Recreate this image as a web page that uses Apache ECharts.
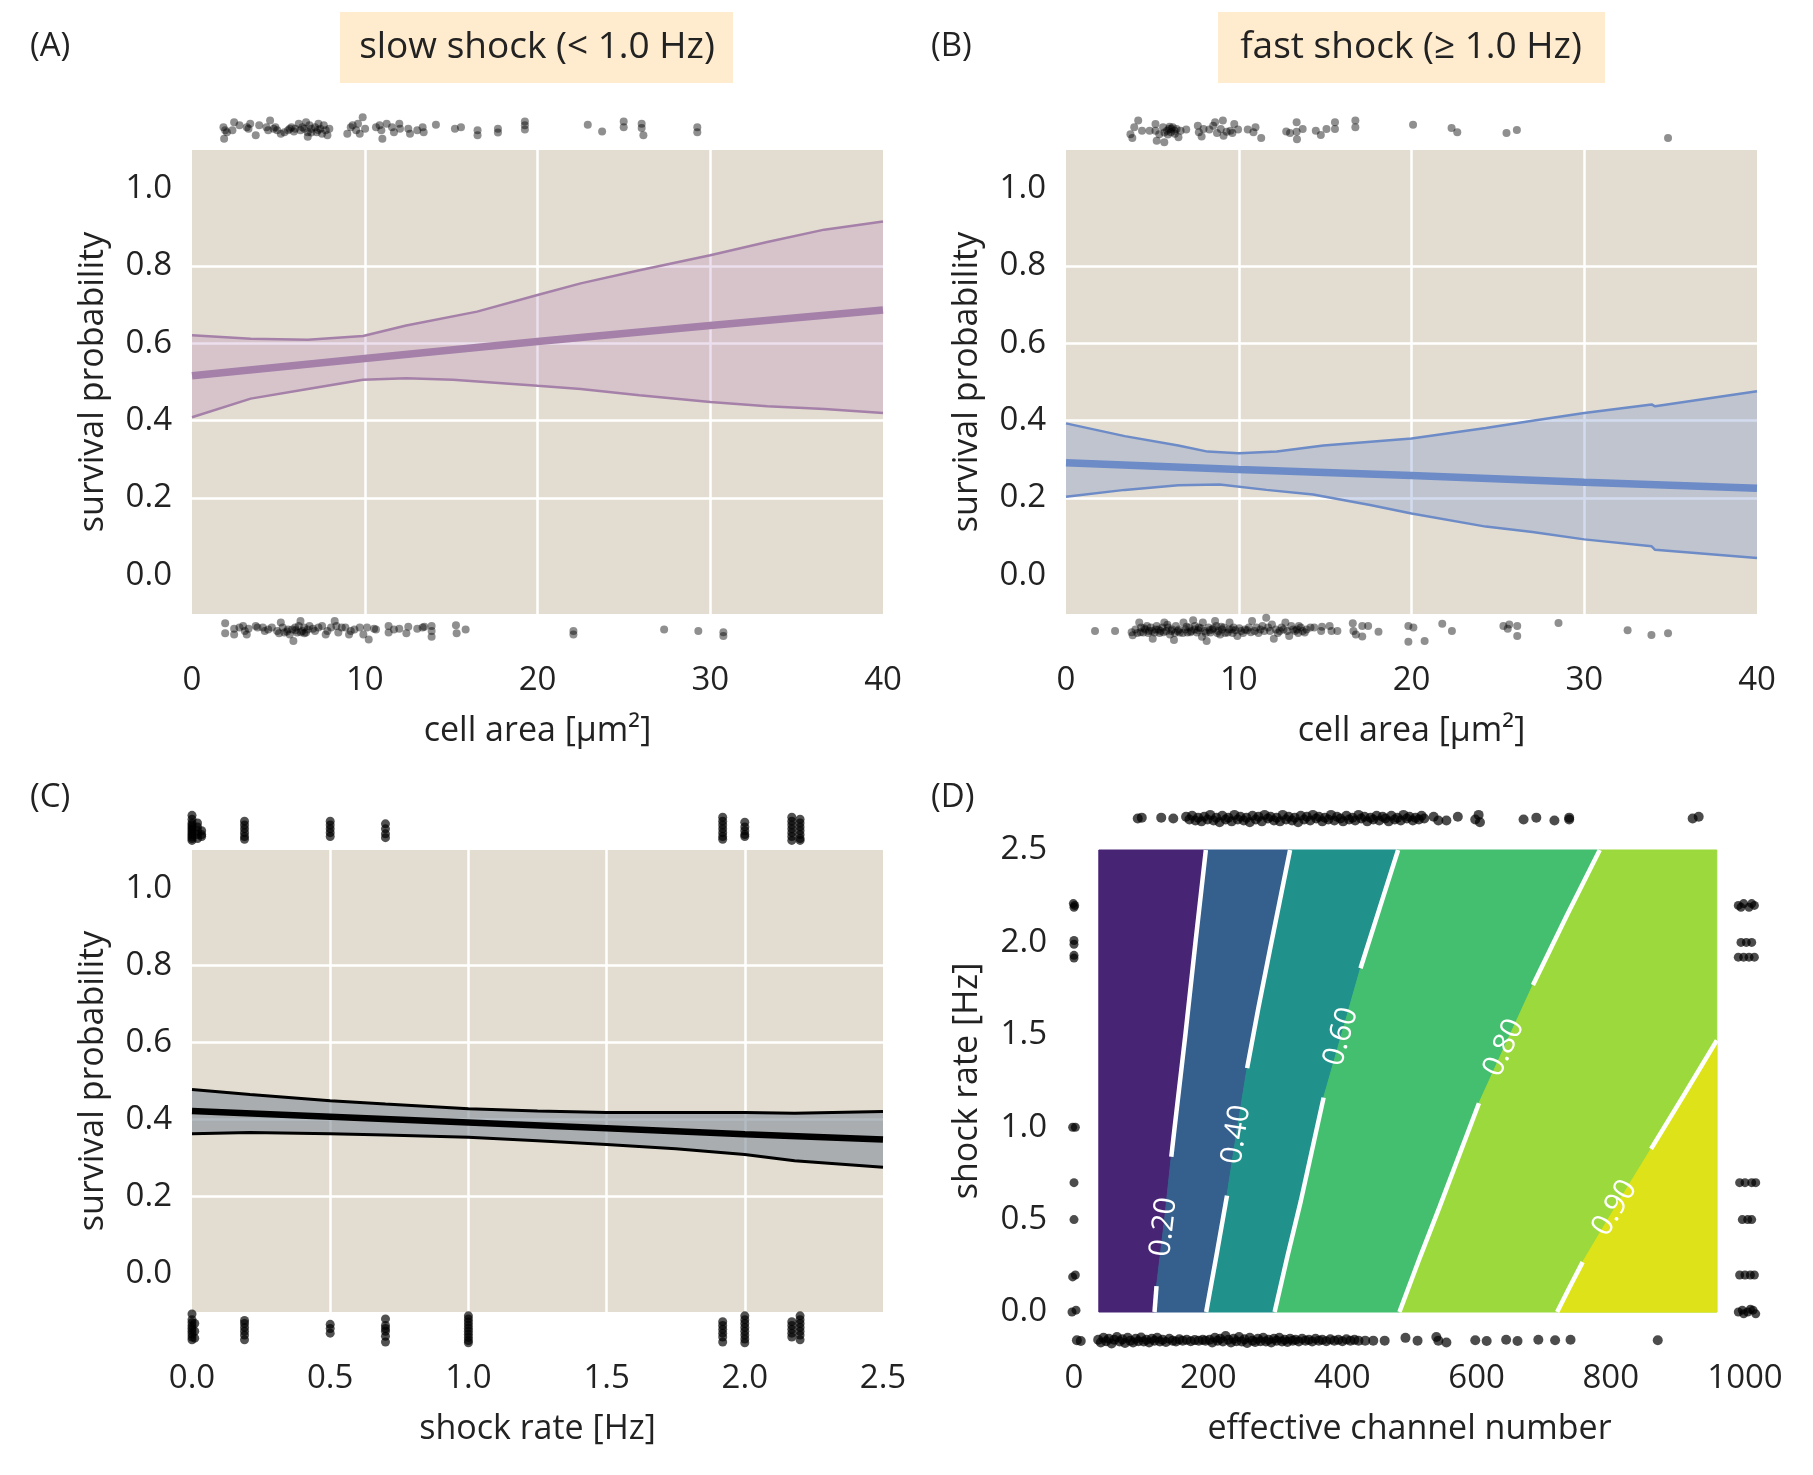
<!DOCTYPE html>
<html><head><meta charset="utf-8">
<script src="https://cdn.jsdelivr.net/npm/echarts@6/dist/echarts.min.js"></script>
<style>html,body{margin:0;padding:0;background:#fff}#c{width:1813px;height:1475px}</style>
</head><body><div id="c"></div>
<script>
// ---------- DATA ----------
const probTicks = [0, 0.2, 0.4, 0.6, 0.8, 1.0];

// Panel A (slow shock): logistic fit vs cell area
const aMean  = [[0,0.516],[10,0.561],[20,0.605],[30,0.646],[40,0.686]];
const aUpper = [[0,0.621],[3.4,0.612],[6.7,0.609],[9.9,0.619],[12.4,0.646],[16.5,0.682],[20,0.725],[22.5,0.755],[25.9,0.789],[30,0.828],[33.3,0.862],[36.6,0.894],[40,0.915]];
const aLower = [[0,0.409],[3.4,0.457],[6.7,0.482],[9.9,0.506],[12.4,0.51],[15.1,0.506],[20,0.49],[22.5,0.482],[25.9,0.466],[30,0.448],[33.3,0.437],[36.6,0.43],[40,0.42]];
const aRugTop = [[1.82,1.159],[1.92,1.151],[1.86,1.129],[2.02,1.146],[2.44,1.172],[2.34,1.151],[2.75,1.164],[3.17,1.159],[3.37,1.168],[3.27,1.155],[3.69,1.138],[3.89,1.164],[4.31,1.159],[4.52,1.176],[4.41,1.151],[4.73,1.155],[4.83,1.159],[4.93,1.151],[5.14,1.142],[5.35,1.146],[5.56,1.151],[5.66,1.155],[5.76,1.159],[5.97,1.155],[6.18,1.168],[6.28,1.151],[6.39,1.159],[6.6,1.172],[6.7,1.146],[6.7,1.134],[6.8,1.164],[6.91,1.155],[7.12,1.159],[7.22,1.146],[7.32,1.168],[7.43,1.155],[7.53,1.142],[7.63,1.164],[7.74,1.151],[7.84,1.138],[7.95,1.155],[8.99,1.142],[9.19,1.159],[9.3,1.164],[9.5,1.151],[9.61,1.168],[9.71,1.142],[9.88,1.185],[10.02,1.155],[10.65,1.159],[10.86,1.164],[10.96,1.151],[11.02,1.129],[11.27,1.168],[11.58,1.159],[11.69,1.146],[12.0,1.168],[12.04,1.155],[12.52,1.155],[12.62,1.142],[13.04,1.151],[13.35,1.159],[13.41,1.146],[14.12,1.165],[15.22,1.155],[15.57,1.159],[16.53,1.151],[16.53,1.138],[17.71,1.155],[17.71,1.145],[19.27,1.174],[19.27,1.164],[19.27,1.153],[22.91,1.165],[23.74,1.148],[24.99,1.174],[24.99,1.159],[26.03,1.168],[26.03,1.157],[26.13,1.138],[29.25,1.159],[29.25,1.146],[6.5,1.155],[6.9,1.145],[7.3,1.152],[5.9,1.148]];
const aRugBottom = [[1.92,-0.124],[1.92,-0.15],[2.44,-0.138],[2.44,-0.153],[2.75,-0.135],[2.96,-0.131],[3.06,-0.144],[3.17,-0.153],[3.27,-0.138],[3.69,-0.131],[3.79,-0.135],[4.1,-0.135],[4.21,-0.144],[4.41,-0.14],[4.62,-0.135],[4.93,-0.144],[5.04,-0.15],[5.14,-0.122],[5.25,-0.135],[5.35,-0.148],[5.56,-0.14],[5.66,-0.153],[5.87,-0.17],[5.97,-0.135],[6.08,-0.148],[6.18,-0.131],[6.28,-0.118],[6.39,-0.144],[6.49,-0.135],[6.6,-0.148],[6.7,-0.14],[6.8,-0.131],[7.12,-0.144],[7.32,-0.135],[7.53,-0.131],[7.74,-0.153],[7.84,-0.144],[8.05,-0.135],[8.26,-0.118],[8.36,-0.131],[8.47,-0.148],[8.67,-0.135],[8.88,-0.135],[9.09,-0.153],[9.19,-0.144],[9.4,-0.14],[9.71,-0.135],[9.92,-0.153],[10.13,-0.135],[10.23,-0.166],[10.54,-0.138],[10.65,-0.14],[11.38,-0.131],[11.38,-0.148],[11.69,-0.14],[12.0,-0.138],[12.41,-0.15],[12.52,-0.133],[13.04,-0.138],[13.35,-0.135],[13.45,-0.133],[13.87,-0.131],[13.87,-0.144],[13.87,-0.159],[15.28,-0.129],[15.32,-0.15],[15.84,-0.14],[22.08,-0.144],[22.08,-0.153],[27.33,-0.14],[29.31,-0.144],[30.76,-0.147],[30.76,-0.157],[5.5,-0.145],[6.0,-0.142],[6.5,-0.15],[7.0,-0.138],[6.3,-0.147],[5.8,-0.14]];

// Panel B (fast shock)
const bMean  = [[0,0.291],[10,0.274],[20,0.258],[30,0.241],[40,0.225]];
const bUpper = [[0,0.393],[3.4,0.36],[6.5,0.336],[8.2,0.32],[10,0.316],[12.2,0.32],[14.9,0.336],[20,0.354],[24.3,0.381],[27,0.40],[30,0.42],[33.9,0.442],[34.1,0.437],[40,0.476]];
const bLower = [[0,0.203],[3.4,0.221],[6.5,0.233],[8.9,0.235],[11.6,0.221],[14.3,0.209],[17.6,0.182],[20,0.16],[24.3,0.126],[27,0.112],[30,0.093],[33.9,0.075],[34.1,0.066],[40,0.045]];
const bRugTop = [[3.73,1.141],[3.84,1.131],[3.95,1.159],[4.18,1.176],[4.4,1.15],[4.84,1.15],[5.18,1.167],[5.18,1.15],[5.25,1.124],[5.4,1.141],[5.62,1.159],[5.69,1.12],[5.85,1.15],[5.96,1.154],[6.07,1.146],[6.18,1.159],[6.29,1.15],[6.4,1.154],[6.51,1.133],[6.63,1.15],[6.96,1.153],[7.63,1.163],[7.69,1.146],[7.85,1.135],[7.96,1.154],[8.3,1.153],[8.52,1.163],[8.63,1.172],[8.74,1.144],[8.96,1.154],[9.08,1.176],[9.12,1.137],[9.3,1.147],[9.52,1.15],[9.63,1.144],[9.74,1.167],[9.96,1.153],[10.52,1.153],[10.85,1.146],[10.97,1.159],[11.3,1.131],[12.75,1.148],[12.97,1.144],[13.35,1.172],[13.35,1.147],[13.37,1.128],[13.7,1.154],[14.46,1.15],[14.75,1.139],[15.08,1.154],[15.57,1.172],[15.57,1.154],[16.75,1.176],[16.75,1.159],[20.09,1.165],[22.32,1.157],[22.65,1.146],[25.5,1.144],[26.1,1.152],[34.85,1.131],[5.7,1.145],[5.9,1.14],[6.1,1.155],[6.0,1.16],[6.3,1.142]];
const bRugBottom = [[1.68,-0.144],[2.84,-0.144],[3.80,-0.147],[3.86,-0.155],[4.02,-0.14],[4.24,-0.122],[4.35,-0.135],[4.47,-0.148],[4.58,-0.14],[4.69,-0.131],[4.80,-0.144],[4.91,-0.135],[5.02,-0.164],[5.13,-0.148],[5.25,-0.131],[5.36,-0.14],[5.47,-0.144],[5.58,-0.135],[5.69,-0.122],[5.80,-0.144],[5.91,-0.135],[6.02,-0.153],[6.14,-0.14],[6.25,-0.167],[6.36,-0.131],[6.47,-0.144],[6.58,-0.148],[6.80,-0.122],[6.91,-0.14],[7.03,-0.148],[7.14,-0.135],[7.25,-0.144],[7.36,-0.116],[7.47,-0.131],[7.58,-0.148],[7.69,-0.135],[7.87,-0.159],[7.92,-0.122],[8.03,-0.144],[8.14,-0.17],[8.25,-0.135],[8.36,-0.148],[8.47,-0.14],[8.63,-0.118],[8.70,-0.131],[8.81,-0.144],[8.92,-0.153],[9.03,-0.14],[9.14,-0.135],[9.36,-0.148],[9.47,-0.122],[9.59,-0.14],[9.70,-0.135],[9.92,-0.157],[10.14,-0.144],[10.36,-0.14],[10.59,-0.135],[10.77,-0.118],[10.92,-0.144],[11.03,-0.135],[11.26,-0.14],[11.37,-0.131],[11.59,-0.11],[11.70,-0.135],[11.81,-0.144],[11.92,-0.127],[12.03,-0.164],[12.15,-0.14],[12.37,-0.144],[12.48,-0.135],[12.70,-0.122],[12.81,-0.144],[12.92,-0.157],[13.04,-0.131],[13.26,-0.144],[13.37,-0.14],[13.48,-0.131],[13.59,-0.135],[13.70,-0.144],[13.82,-0.148],[14.15,-0.135],[14.37,-0.135],[14.77,-0.144],[14.82,-0.133],[15.26,-0.131],[15.37,-0.144],[15.71,-0.144],[16.6,-0.124],[16.64,-0.144],[16.78,-0.153],[17.15,-0.131],[17.15,-0.158],[17.49,-0.131],[18.09,-0.146],[19.82,-0.131],[19.82,-0.172],[20.11,-0.135],[20.76,-0.17],[21.78,-0.125],[22.34,-0.144],[25.32,-0.131],[25.57,-0.138],[25.66,-0.127],[26.12,-0.131],[26.12,-0.157],[28.51,-0.123],[32.51,-0.142],[33.89,-0.154],[34.85,-0.15],[4.13,-0.149],[4.31,-0.147],[4.53,-0.137],[4.76,-0.149],[4.98,-0.144],[5.20,-0.14],[5.42,-0.149],[5.65,-0.147],[5.87,-0.128],[6.09,-0.144],[6.31,-0.149],[6.54,-0.14],[6.76,-0.149],[6.98,-0.133],[7.20,-0.147],[7.43,-0.14],[7.65,-0.142],[7.80,-0.137],[8.09,-0.149],[8.32,-0.142],[8.54,-0.137],[8.76,-0.149],[8.98,-0.133],[9.21,-0.149],[9.43,-0.14],[9.65,-0.149],[9.81,-0.142],[10.03,-0.137],[10.25,-0.149],[10.48,-0.142],[10.70,-0.147],[11.14,-0.149],[11.48,-0.144],[12.26,-0.149],[12.59,-0.14],[13.15,-0.14],[13.44,-0.149],[13.93,-0.14]];

// Panel C (shock rate)
const cMean  = [[0,0.422],[0.5,0.407],[1.0,0.392],[1.5,0.377],[2.0,0.362],[2.5,0.348]];
const cUpper = [[0,0.478],[0.21,0.465],[0.5,0.449],[0.7,0.44],[1.0,0.428],[1.25,0.422],[1.5,0.418],[1.75,0.418],[2.0,0.418],[2.18,0.416],[2.5,0.421]];
const cLower = [[0,0.363],[0.21,0.366],[0.5,0.363],[0.7,0.36],[1.0,0.354],[1.25,0.345],[1.5,0.335],[1.75,0.324],[2.0,0.309],[2.18,0.293],[2.5,0.276]];
const cRugTop = [[0,1.19],[0,1.18],[0,1.17],[0,1.165],[0,1.16],[0,1.155],[0,1.15],[0,1.145],[0,1.14],[0,1.135],[0,1.13],[0,1.125],[0.02,1.17],[0.02,1.16],[0.02,1.15],[0.02,1.14],[0.02,1.13],[0.035,1.15],[0.035,1.14],[0.035,1.135],
 [0.19,1.175],[0.19,1.165],[0.19,1.155],[0.19,1.145],[0.19,1.135],[0.19,1.128],
 [0.5,1.175],[0.5,1.165],[0.5,1.155],[0.5,1.145],[0.5,1.135],
 [0.7,1.168],[0.7,1.155],[0.7,1.142],[0.7,1.132],
 [1.92,1.185],[1.92,1.175],[1.92,1.165],[1.92,1.155],[1.92,1.145],[1.92,1.135],[1.92,1.128],
 [2.0,1.172],[2.0,1.16],[2.0,1.15],[2.0,1.14],[2.0,1.135],
 [2.17,1.185],[2.17,1.175],[2.17,1.165],[2.17,1.155],[2.17,1.145],[2.17,1.135],[2.17,1.125],
 [2.2,1.18],[2.2,1.17],[2.2,1.16],[2.2,1.15],[2.2,1.14],[2.2,1.13],[2.2,1.125]];
const cRugBottom = [[0,-0.105],[0,-0.12],[0,-0.128],[0,-0.136],[0,-0.143],[0,-0.15],[0,-0.157],[0,-0.165],[0,-0.172],[0.01,-0.13],[0.01,-0.15],[0.01,-0.168],
 [0.19,-0.122],[0.19,-0.13],[0.19,-0.14],[0.19,-0.15],[0.19,-0.16],[0.19,-0.172],
 [0.5,-0.132],[0.5,-0.143],[0.5,-0.155],
 [0.7,-0.118],[0.7,-0.135],[0.7,-0.143],[0.7,-0.15],[0.7,-0.163],[0.7,-0.178],
 [1.0,-0.11],[1.0,-0.118],[1.0,-0.126],[1.0,-0.134],[1.0,-0.142],[1.0,-0.15],[1.0,-0.158],[1.0,-0.166],[1.0,-0.174],[1.0,-0.18],
 [1.92,-0.125],[1.92,-0.135],[1.92,-0.145],[1.92,-0.155],[1.92,-0.165],[1.92,-0.178],
 [2.0,-0.11],[2.0,-0.12],[2.0,-0.13],[2.0,-0.14],[2.0,-0.15],[2.0,-0.16],[2.0,-0.17],[2.0,-0.18],
 [2.17,-0.125],[2.17,-0.135],[2.17,-0.145],[2.17,-0.155],[2.17,-0.165],
 [2.2,-0.11],[2.2,-0.12],[2.2,-0.13],[2.2,-0.14],[2.2,-0.15],[2.2,-0.16],[2.2,-0.172]];

// Panel D (contours of survival probability)
const dExtentX = [37, 958];
const dExtentY = [0, 2.5];
const contourLevels = ['0.20', '0.40', '0.60', '0.80', '0.90'];
const contour20 = [[120,0],[123,0.14],[135,0.5],[145,0.84],[150,1.0],[166,1.5],[181,2.0],[196.5,2.5]];
const contour40 = [[197,0],[212,0.3],[228,0.63],[242,0.96],[258,1.32],[275,1.65],[292,1.96],[322,2.5]];
const contour60 = [[299,0],[318,0.3],[338,0.6],[372,1.16],[398,1.49],[427,1.86],[455,2.18],[483,2.5]];
const contour80 = [[485,0],[516,0.3],[545,0.57],[603.5,1.13],[641,1.43],[684,1.77],[735,2.15],[783.5,2.5]];
const contour90 = [[720,0],[738,0.13],[758,0.27],[806,0.563],[860,0.883],[910,1.18],[958,1.47]];
const contourGaps = [[1,3],[2,4],[3,5],[3,5],[2,4]];
const contourLabelAt = [[134,0.46],[242,0.96],[398,1.49],[641,1.43],[806,0.563]];
const dRugTop = [[95,2.67],[101,2.675],[130,2.675],[148,2.67],[167,2.68],[172,2.665],[176,2.685],[181,2.66],[185,2.675],[190,2.655],[194,2.68],[199,2.665],[203,2.69],[208,2.66],[212,2.675],[217,2.65],[221,2.685],[226,2.665],[230,2.675],[235,2.655],[239,2.69],[244,2.665],[248,2.68],[253,2.66],[257,2.675],[262,2.65],[266,2.685],[271,2.665],[275,2.68],[280,2.655],[284,2.69],[289,2.67],[293,2.68],[298,2.66],[302,2.675],[307,2.655],[311,2.69],[316,2.665],[320,2.68],[325,2.66],[329,2.675],[334,2.65],[338,2.685],[343,2.665],[347,2.68],[352,2.66],[356,2.69],[361,2.67],[365,2.68],[370,2.655],[374,2.675],[379,2.665],[383,2.69],[388,2.66],[392,2.68],[397,2.67],[401,2.655],[406,2.685],[410,2.665],[415,2.675],[419,2.66],[424,2.69],[428,2.67],[433,2.68],[437,2.655],[442,2.675],[446,2.665],[451,2.685],[455,2.66],[460,2.68],[464,2.67],[469,2.655],[473,2.685],[478,2.665],[482,2.675],[487,2.66],[491,2.69],[496,2.67],[500,2.68],[505,2.66],[509,2.675],[514,2.665],[518,2.685],[522,2.67],[536,2.68],[543,2.66],[555,2.66],[572,2.68],[598,2.665],[603,2.69],[605,2.65],[670,2.665],[689,2.675],[716,2.66],[738,2.675],[738,2.665],[922,2.67],[931,2.68]];
const dRugBottom = [[4.3,-0.153],[10.1,-0.157],[36,-0.15],[40,-0.165],[44,-0.14],[48,-0.158],[52,-0.145],[56,-0.17],[60,-0.15],[64,-0.135],[68,-0.16],[72,-0.148],[76,-0.168],[80,-0.14],[84,-0.155],[88,-0.165],[92,-0.145],[96,-0.158],[100,-0.138],[104,-0.16],[108,-0.15],[112,-0.165],[116,-0.145],[120,-0.155],[124,-0.14],[128,-0.16],[132,-0.15],[137,-0.162],[142,-0.145],[147,-0.155],[152,-0.16],[157,-0.148],[162,-0.155],[168,-0.15],[174,-0.158],[180,-0.152],[186,-0.155],[192,-0.15],[196,-0.155],[202,-0.15],[206,-0.165],[210,-0.14],[214,-0.155],[218,-0.145],[222,-0.16],[226,-0.13],[230,-0.15],[234,-0.165],[238,-0.145],[242,-0.158],[246,-0.135],[250,-0.16],[254,-0.148],[258,-0.168],[262,-0.14],[266,-0.155],[270,-0.162],[274,-0.145],[278,-0.158],[282,-0.14],[286,-0.16],[290,-0.15],[294,-0.165],[298,-0.145],[302,-0.155],[306,-0.14],[310,-0.16],[314,-0.15],[318,-0.162],[322,-0.145],[326,-0.155],[330,-0.15],[335,-0.16],[340,-0.145],[345,-0.155],[350,-0.15],[355,-0.16],[360,-0.145],[365,-0.155],[370,-0.15],[376,-0.158],[382,-0.148],[388,-0.155],[394,-0.15],[400,-0.158],[406,-0.148],[412,-0.155],[418,-0.15],[424,-0.155],[434,-0.155],[446,-0.155],[463,-0.155],[494,-0.14],[512,-0.155],[540,-0.135],[543,-0.155],[555,-0.165],[598,-0.153],[615,-0.157],[644,-0.15],[661,-0.157],[692,-0.15],[717,-0.153],[740,-0.15],[870,-0.153]];
const dRugLeft = [[-1,2.21],[0,2.19],[1,2.2],[0,2.01],[0,1.99],[0,1.93],[0,1.915],[-2,1.0],[2,1.0],[0,0.7],[0,0.5],[-2,0.19],[2,0.2],[-3,0.0],[3,0.01]];
const dRugRight = [[990,2.2],[998,2.21],[1006,2.19],[1014,2.2],[994,2.19],[1010,2.21],[994,2.0],[1002,2.0],[1010,2.0],[990,1.92],[998,1.92],[1006,1.92],[1014,1.92],[992,0.7],[1000,0.7],[1010,0.7],[1016,0.7],[996,0.5],[1004,0.5],[1010,0.5],[992,0.2],[1000,0.2],[1008,0.2],[1014,0.2],[990,0.0],[996,0.01],[1004,0.0],[1012,0.01],[1016,-0.01],[998,-0.01],[1008,0.015]];

// ---------- STYLE ----------
const FONT = 'Open Sans';
const TXT = '#222222';
const BG = '#e3ddd1';
const regionColors = ['#482475', '#355f8d', '#21918c', '#44bf70', '#9bd93c', '#dde318'];

const chart = echarts.init(document.getElementById('c'), null, {renderer: 'canvas'});

function xAxisCfg(gi, min, max, interval, name, fmt, split) {
  return {
    gridIndex: gi, type: 'value', min, max, interval,
    axisLine: {show: false}, axisTick: {show: false},
    axisLabel: {fontSize: 33, color: TXT, fontFamily: FONT, margin: 50, formatter: fmt},
    splitLine: {show: split, showMinLine: false, showMaxLine: false, lineStyle: {color: '#ffffff', width: 2.5}},
    name, nameLocation: 'middle', nameGap: 100,
    nameTextStyle: {fontSize: 34, color: TXT, fontFamily: FONT}
  };
}
function yProb(gi) {
  return {
    gridIndex: gi, type: 'value', min: -0.1, max: 1.1, splitNumber: 6,
    axisLine: {show: false},
    axisTick: {show: false, customValues: probTicks},
    axisLabel: {fontSize: 33, color: TXT, fontFamily: FONT, margin: 20, customValues: probTicks,
      formatter: v => (v < -0.001 || v > 1.001) ? '' : v.toFixed(1)},
    splitLine: {show: true, showMinLine: false, showMaxLine: false, lineStyle: {color: '#ffffff', width: 2.5}},
    name: 'survival probability', nameLocation: 'middle', nameGap: 82,
    nameTextStyle: {fontSize: 34, color: TXT, fontFamily: FONT}
  };
}

function bandSeries(gi, upper, lower, fill) {
  return {
    type: 'custom', xAxisIndex: gi, yAxisIndex: gi, z: 2, silent: true,
    data: [[upper[0][0], upper[0][1]]],
    renderItem: (params, api) => {
      const pts = upper.map(d => api.coord(d)).concat(lower.slice().reverse().map(d => api.coord(d)));
      return {type: 'polygon', shape: {points: pts}, style: {fill: fill}};
    }
  };
}
function lineSeries(gi, data, color, width, z) {
  return {type: 'line', xAxisIndex: gi, yAxisIndex: gi, data, symbol: 'none', showSymbol: false,
    silent: true, z, lineStyle: {color, width}, animation: false};
}
function rugSeries(gi, data, size, color) {
  return {type: 'scatter', xAxisIndex: gi, yAxisIndex: gi, data, symbolSize: size, clip: false,
    silent: true, z: 6, itemStyle: {color: color, borderWidth: 0}};
}

const contours = [contour20, contour40, contour60, contour80, contour90];
const edgeLeft = [[dExtentX[0], dExtentY[0]], [dExtentX[0], dExtentY[1]]];
const edgeRight = [[dExtentX[1], dExtentY[0]], [dExtentX[1], dExtentY[1]]];
const edgeRight90 = [[dExtentX[1], dExtentY[0]], contour90[contour90.length - 1]];
const regionBounds = [
  [edgeLeft, contour20], [contour20, contour40], [contour40, contour60],
  [contour60, contour80], [contour80, edgeRight], [contour90, edgeRight90]
];

const RUG = 'rgba(0,0,0,0.55)';
const series = [
  bandSeries(0, aUpper, aLower, 'rgba(168,110,178,0.22)'),
  lineSeries(0, aUpper, '#a580a8', 2.5, 3),
  lineSeries(0, aLower, '#a580a8', 2.5, 3),
  lineSeries(0, aMean, '#a580a8', 7.5, 4),
  rugSeries(0, aRugTop, 8, RUG),
  rugSeries(0, aRugBottom, 8, RUG),

  bandSeries(1, bUpper, bLower, 'rgba(110,140,203,0.3)'),
  lineSeries(1, bUpper, '#6d8bc7', 2.5, 3),
  lineSeries(1, bLower, '#6d8bc7', 2.5, 3),
  lineSeries(1, bMean, '#6d8bc7', 7.5, 4),
  rugSeries(1, bRugTop, 8, RUG),
  rugSeries(1, bRugBottom, 8, RUG),

  bandSeries(2, cUpper, cLower, 'rgba(130,142,152,0.6)'),
  lineSeries(2, cUpper, '#000000', 3, 3),
  lineSeries(2, cLower, '#000000', 3, 3),
  lineSeries(2, cMean, '#000000', 6.5, 4),
  rugSeries(2, cRugTop, 9, 'rgba(0,0,0,0.85)'),
  rugSeries(2, cRugBottom, 9, 'rgba(0,0,0,0.85)'),

  {
    type: 'custom', xAxisIndex: 3, yAxisIndex: 3, z: 2, silent: true,
    data: regionColors.map((c, i) => [i, 0]),
    renderItem: (params, api) => {
      const [L, R] = regionBounds[params.dataIndex];
      const pts = L.map(d => api.coord(d)).concat(R.slice().reverse().map(d => api.coord(d)));
      const col = regionColors[params.dataIndex];
      return {type: 'polygon', shape: {points: pts}, style: {fill: col, stroke: col, lineWidth: 1}};
    }
  }
];
contours.forEach((c, k) => {
  const g = contourGaps[k];
  series.push(lineSeries(3, c.slice(0, g[0] + 1), '#ffffff', 4.5, 4));
  series.push(lineSeries(3, c.slice(g[1]), '#ffffff', 4.5, 4));
});
series.push({
  type: 'custom', xAxisIndex: 3, yAxisIndex: 3, z: 5, silent: true,
  data: contourLabelAt,
  renderItem: (params, api) => {
    const k = params.dataIndex;
    const c = contours[k], g = contourGaps[k];
    const p = api.coord(contourLabelAt[k]);
    const p1 = api.coord(c[g[0]]), p2 = api.coord(c[g[1]]);
    const ang = Math.atan2(-(p2[1] - p1[1]), p2[0] - p1[0]);
    return {type: 'text', x: p[0], y: p[1], rotation: ang,
      style: {text: contourLevels[k], fill: '#ffffff', font: '30px "Open Sans"',
        align: 'center', verticalAlign: 'middle', textAlign: 'center', textVerticalAlign: 'middle'}};
  }
});
const DRUG = 'rgba(0,0,0,0.88)';
series.push(rugSeries(3, dRugTop, 10, DRUG));
series.push(rugSeries(3, dRugBottom, 10, DRUG));
series.push(rugSeries(3, dRugLeft, 9, DRUG));
series.push(rugSeries(3, dRugRight, 9, DRUG));

function textEl(x, y, text, size, align) {
  return {type: 'text', x, y, silent: true,
    style: {text, fill: TXT, font: size + 'px "Open Sans"', align: align, verticalAlign: 'middle',
      textAlign: align, textVerticalAlign: 'middle'}};
}

const option = {
  animation: false,
  backgroundColor: '#ffffff',
  grid: [
    {left: 192, top: 150, width: 691, height: 464, show: true, backgroundColor: BG, borderWidth: 0},
    {left: 1066, top: 150, width: 691, height: 464, show: true, backgroundColor: BG, borderWidth: 0},
    {left: 192, top: 850, width: 691, height: 462, show: true, backgroundColor: BG, borderWidth: 0},
    {left: 1074, top: 850, width: 671, height: 462, show: false}
  ],
  xAxis: [
    xAxisCfg(0, 0, 40, 10, 'cell area [μm²]', v => String(v), true),
    xAxisCfg(1, 0, 40, 10, 'cell area [μm²]', v => String(v), true),
    xAxisCfg(2, 0, 2.5, 0.5, 'shock rate [Hz]', v => v.toFixed(1), true),
    xAxisCfg(3, 0, 1000, 200, 'effective channel number', v => String(v), false)
  ],
  yAxis: [
    yProb(0), yProb(1), yProb(2),
    {
      gridIndex: 3, type: 'value', min: 0, max: 2.5, interval: 0.5,
      axisLine: {show: false}, axisTick: {show: false}, splitLine: {show: false},
      axisLabel: {fontSize: 33, color: TXT, fontFamily: FONT, margin: 27, formatter: v => v.toFixed(1)},
      name: 'shock rate [Hz]', nameLocation: 'middle', nameGap: 90,
      nameTextStyle: {fontSize: 34, color: TXT, fontFamily: FONT}
    }
  ],
  graphic: [
    {type: 'rect', silent: true, shape: {x: 340, y: 12, width: 393, height: 71}, style: {fill: '#ffebcd'}},
    textEl(537, 47, 'slow shock (< 1.0 Hz)', 37, 'center'),
    {type: 'rect', silent: true, shape: {x: 1218, y: 12, width: 387, height: 71}, style: {fill: '#ffebcd'}},
    textEl(1411, 47, 'fast shock (≥ 1.0 Hz)', 37, 'center'),
    textEl(30, 47, '(A)', 33, 'left'),
    textEl(931, 47, '(B)', 33, 'left'),
    textEl(30, 798, '(C)', 33, 'left'),
    textEl(931, 798, '(D)', 33, 'left')
  ],
  series
};
chart.setOption(option);
</script></body></html>
